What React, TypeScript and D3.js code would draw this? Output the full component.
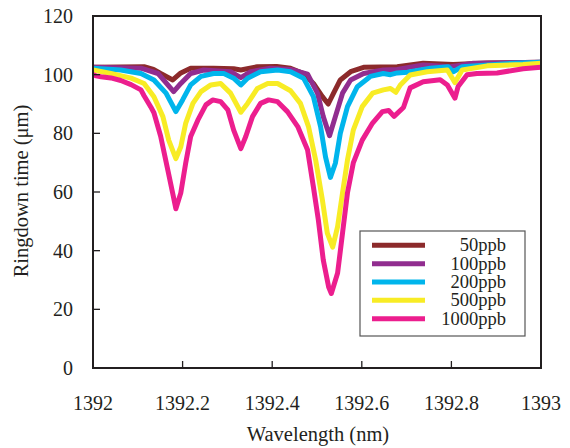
import React from "react";
import * as d3 from "d3";

const seriesNames = ["50ppb", "100ppb", "200ppb", "500ppb", "1000ppb"];
const seriesColors = ["#8c2a2b", "#912d8f", "#00b5ec", "#f8ec25", "#ec1e8e"];

const s50: [number, number][] = [
  [1392.0, 102.5], [1392.06, 102.6], [1392.114, 102.7], [1392.135, 101.8], [1392.151, 100.4], [1392.178, 98.2],
  [1392.196, 100.6], [1392.218, 102.2], [1392.269, 102.2], [1392.314, 102.0], [1392.33, 101.6],
  [1392.367, 102.7], [1392.41, 102.8], [1392.441, 102.2], [1392.47, 100.4], [1392.492, 97.0],
  [1392.512, 92.5], [1392.525, 90.0], [1392.537, 93.7], [1392.552, 98.2], [1392.575, 101.0],
  [1392.604, 102.5], [1392.679, 102.7], [1392.737, 103.9], [1392.804, 103.5], [1392.88, 104.0],
  [1393.0, 104.2],
];
const s100: [number, number][] = [
  [1392.0, 102.5], [1392.107, 102.2], [1392.145, 100.4], [1392.167, 96.5], [1392.18, 94.2],
  [1392.196, 97.0], [1392.218, 100.4], [1392.247, 101.6], [1392.307, 101.0], [1392.33, 99.0],
  [1392.352, 101.0], [1392.396, 102.2], [1392.441, 101.8], [1392.479, 100.2], [1392.501, 93.7],
  [1392.514, 85.7], [1392.528, 79.2], [1392.541, 85.7], [1392.557, 93.7], [1392.575, 98.2],
  [1392.604, 100.4], [1392.648, 101.6], [1392.679, 101.8], [1392.737, 103.3], [1392.797, 102.7],
  [1392.81, 103.0], [1392.849, 103.9], [1393.0, 104.2],
];
const s200: [number, number][] = [
  [1392.0, 102.2], [1392.062, 101.6], [1392.107, 100.4], [1392.136, 98.2], [1392.163, 93.7],
  [1392.185, 87.4], [1392.2, 91.4], [1392.218, 96.5], [1392.241, 99.4], [1392.269, 100.4],
  [1392.292, 100.4], [1392.314, 98.8], [1392.33, 96.5], [1392.345, 98.8], [1392.374, 101.0],
  [1392.412, 101.6], [1392.441, 101.0], [1392.47, 98.8], [1392.492, 92.5], [1392.508, 82.3],
  [1392.519, 72.0], [1392.53, 65.0], [1392.541, 69.8], [1392.552, 80.0], [1392.568, 89.1],
  [1392.59, 95.9], [1392.619, 99.4], [1392.648, 100.4], [1392.664, 100.0], [1392.679, 100.6],
  [1392.702, 100.8], [1392.753, 102.2], [1392.793, 102.7], [1392.804, 101.0], [1392.824, 102.7],
  [1392.938, 103.9], [1393.0, 104.2],
];
const s500: [number, number][] = [
  [1392.0, 101.6], [1392.04, 100.4], [1392.085, 98.8], [1392.114, 97.0], [1392.136, 92.5],
  [1392.156, 85.7], [1392.169, 77.7], [1392.185, 71.4], [1392.196, 75.4], [1392.207, 83.5],
  [1392.223, 90.2], [1392.241, 94.2], [1392.263, 96.5], [1392.285, 97.0], [1392.307, 93.7],
  [1392.33, 87.2], [1392.345, 90.2], [1392.367, 95.3], [1392.39, 97.0], [1392.412, 97.0],
  [1392.441, 94.5], [1392.463, 90.2], [1392.481, 82.3], [1392.497, 70.9], [1392.512, 57.3],
  [1392.523, 46.0], [1392.535, 41.2], [1392.546, 48.2], [1392.557, 59.7], [1392.568, 70.9],
  [1392.581, 81.1], [1392.601, 89.1], [1392.624, 93.7], [1392.648, 94.8], [1392.664, 95.3],
  [1392.676, 94.0], [1392.686, 96.5], [1392.708, 99.9], [1392.746, 101.0], [1392.791, 101.6],
  [1392.808, 97.3], [1392.824, 101.6], [1392.88, 103.0], [1392.96, 103.5], [1393.0, 103.9],
];
const s1000: [number, number][] = [
  [1392.0, 100.0], [1392.007, 99.6], [1392.018, 99.3], [1392.04, 98.9], [1392.062, 98.0],
  [1392.085, 96.6], [1392.107, 94.8], [1392.114, 92.8], [1392.129, 89.0], [1392.136, 87.0],
  [1392.151, 79.0], [1392.167, 67.5], [1392.178, 59.5], [1392.185, 54.3], [1392.196, 59.7],
  [1392.207, 69.9], [1392.218, 78.9], [1392.234, 84.5], [1392.252, 89.7], [1392.267, 91.4],
  [1392.285, 90.8], [1392.301, 88.0], [1392.314, 81.1], [1392.33, 74.8], [1392.341, 78.9],
  [1392.356, 85.7], [1392.374, 90.2], [1392.392, 91.4], [1392.412, 90.8], [1392.434, 87.4],
  [1392.457, 82.3], [1392.479, 74.3], [1392.492, 61.7], [1392.503, 50.5], [1392.514, 36.8],
  [1392.526, 27.6], [1392.532, 25.4], [1392.546, 32.4], [1392.557, 46.0], [1392.568, 59.7],
  [1392.581, 69.9], [1392.601, 77.7], [1392.624, 83.5], [1392.646, 87.4], [1392.66, 87.8],
  [1392.672, 85.8], [1392.693, 88.8], [1392.708, 95.5], [1392.737, 97.6], [1392.775, 98.3],
  [1392.791, 96.5], [1392.808, 92.0], [1392.815, 96.0], [1392.835, 100.0], [1392.857, 100.4],
  [1392.902, 100.6], [1392.96, 102.0], [1393.0, 102.5],
];
const seriesData = [s50, s100, s200, s500, s1000];

const xTicks = [1392, 1392.2, 1392.4, 1392.6, 1392.8, 1393];
const xTickLabels = ["1392", "1392.2", "1392.4", "1392.6", "1392.8", "1393"];
const yTicks = [0, 20, 40, 60, 80, 100, 120];

const FONT = "'Liberation Serif', 'Times New Roman', serif";
const AXIS = "#231f20";

export default function App() {
  const left = 93, right = 541, top = 16, bottom = 368;
  const x = d3.scaleLinear().domain([1392, 1393]).range([left, right]);
  const y = d3.scaleLinear().domain([0, 120]).range([bottom, top]);
  const line = d3
    .line<[number, number]>()
    .x((d) => x(d[0]))
    .y((d) => y(d[1]))
    .curve(d3.curveLinear);

  const legX = 360, legY = 231, legW = 165, legH = 105;
  const rowY0 = 245.3, rowStep = 18.35;

  return (
    <svg
      width={570}
      height={448}
      style={{ position: "absolute", left: 0, top: 0, background: "#fff" }}
      fontFamily={FONT}
    >
      <rect x={0} y={0} width={570} height={448} fill="#fff" />
      <defs>
        <clipPath id="plotclip">
          <rect x={left} y={top} width={right - left} height={bottom - top} />
        </clipPath>
      </defs>
      <g clipPath="url(#plotclip)">
        {seriesData.map((s, i) => (
          <path
            key={seriesNames[i]}
            d={line(s) || ""}
            fill="none"
            stroke={seriesColors[i]}
            strokeWidth={5}
            strokeLinejoin="round"
            strokeLinecap="round"
          />
        ))}
      </g>
      <rect x={left} y={top} width={right - left} height={bottom - top} fill="none" stroke={AXIS} strokeWidth={2} />
      {yTicks.map((t) => (
        <g key={"y" + t}>
          <line x1={left} x2={left + 7} y1={y(t)} y2={y(t)} stroke={AXIS} strokeWidth={1.3} />
          <text x={73} y={y(t)} dy="0.35em" textAnchor="end" fontSize={20} fill={AXIS}>
            {t}
          </text>
        </g>
      ))}
      {xTicks.map((t, i) => (
        <g key={"x" + t}>
          <line x1={x(t)} x2={x(t)} y1={bottom} y2={bottom - 7} stroke={AXIS} strokeWidth={1.3} />
          <text x={x(t)} y={410} textAnchor="middle" fontSize={20} fill={AXIS}>
            {xTickLabels[i]}
          </text>
        </g>
      ))}
      <text x={318} y={441} textAnchor="middle" fontSize={20.5} fill={AXIS}>
        Wavelength (nm)
      </text>
      <text transform={`translate(28,191) rotate(-90)`} textAnchor="middle" fontSize={20.5} fill={AXIS}>
        Ringdown time (μm)
      </text>
      <rect x={legX} y={legY} width={legW} height={legH} fill="#fff" stroke="#555" strokeWidth={1.2} />
      {seriesNames.map((n, i) => {
        const ry = rowY0 + i * rowStep;
        return (
          <g key={"leg" + n}>
            <line x1={372} x2={425} y1={ry} y2={ry} stroke={seriesColors[i]} strokeWidth={5} />
            <text x={506} y={ry + 6} textAnchor="end" fontSize={18.5} fill={AXIS}>
              {n}
            </text>
          </g>
        );
      })}
    </svg>
  );
}
